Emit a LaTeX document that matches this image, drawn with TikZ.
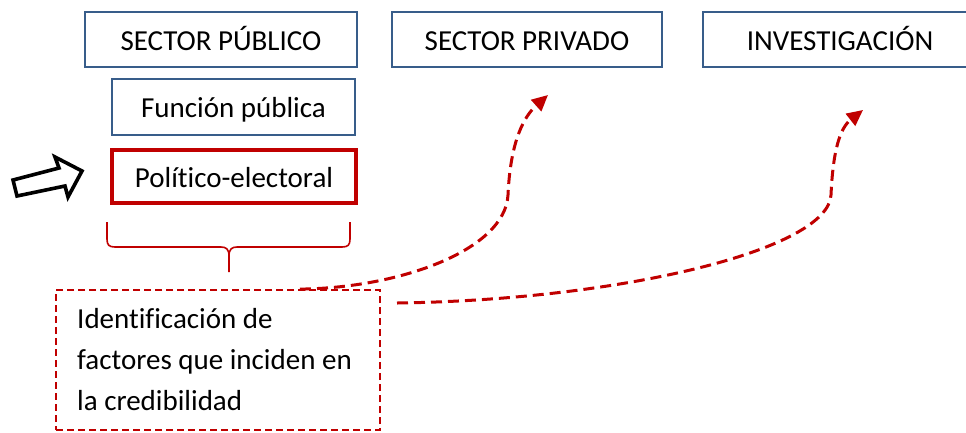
\documentclass[tikz,border=0pt]{standalone}
\usepackage{fontspec}
\setmainfont[Ligatures=NoCommon]{Carlito}
\usetikzlibrary{arrows.meta}
\definecolor{boxblue}{RGB}{56,93,138}
\definecolor{darkred}{RGB}{192,0,0}
\tikzset{
  topbox/.style={draw=boxblue, line width=2.6pt, inner sep=0pt, minimum height=55pt,
     text height=24pt, text depth=3pt, font=\fontsize{29}{34}\selectfont},
  redbox/.style={draw=darkred, line width=3.4pt, inner sep=0pt, minimum height=53pt,
     text height=24pt, text depth=3pt, font=\fontsize{29}{34}\selectfont},
  dashbox/.style={draw=darkred, line width=1.8pt, dash pattern=on 7pt off 4pt, inner sep=0pt},
  flow/.style={draw=darkred, line width=3pt, dash pattern=on 11pt off 6pt,
     -{Triangle[length=16pt,width=15pt]}},
  bracestyle/.style={draw=darkred, line width=1.6pt},
  blockarrow/.style={draw=black, fill=white, line width=3.6pt, line join=miter},
  bodytext/.style={inner sep=0pt, anchor=base west, font=\fontsize{29}{41}\selectfont}
}
\begin{document}
\begin{tikzpicture}[x=1pt,y=-1pt]
\useasboundingbox (0,0) rectangle (966,432);
\clip (0,0) rectangle (966,432);
% top boxes
\node[topbox, minimum width=272pt] (pub) at (221,39.5) {SECTOR PÚBLICO};
\node[topbox, minimum width=270pt] (priv) at (527,39.5) {SECTOR PRIVADO};
\node[topbox, minimum width=274pt] (inv) at (840,39.5) {INVESTIGACIÓN};
\node[topbox, minimum width=243pt, minimum height=56pt] (fun) at (233.5,107) {Función pública};
\node[redbox, minimum width=244pt] (pol) at (234,176.5) {Político-electoral};
% block arrow
\draw[blockarrow] (13,180) -- (59,168) -- (55,157) -- (82,171) -- (68,197) -- (65,186) -- (17,196) -- cycle;
% brace
\draw[bracestyle] (107,222) -- (107,239) .. controls (107,245) and (109,247) .. (115,247)
  -- (221,247) .. controls (226,247) and (229,249) .. (229,256) -- (229,272);
\draw[bracestyle] (350,222) -- (350,239) .. controls (350,245) and (348,247) .. (342,247)
  -- (237,247) .. controls (232,247) and (229,249) .. (229,256);
% text box
\node[dashbox, minimum width=324pt, minimum height=140pt] (box) at (218,360) {};
\node[bodytext] (txt) at (77,328) {\vtop{\hbox{Identificación de}\hbox{factores que inciden en}\hbox{la credibilidad}}};
% dashed arrows
\coordinate (s1) at (box.north -| 300,0);
\coordinate (e1) at (548,95);
\coordinate (s2) at (397,303);
\coordinate (e2) at (863,110);
\draw[flow] (s1) .. controls (400,288) and (505,250) .. (508,195)
  .. controls (510,150) and (520,120) .. (e1);
\draw[flow] (s2) .. controls (620,300) and (828,250) .. (831,195)
  .. controls (833,150) and (840,128) .. (e2);
\end{tikzpicture}
\end{document}
